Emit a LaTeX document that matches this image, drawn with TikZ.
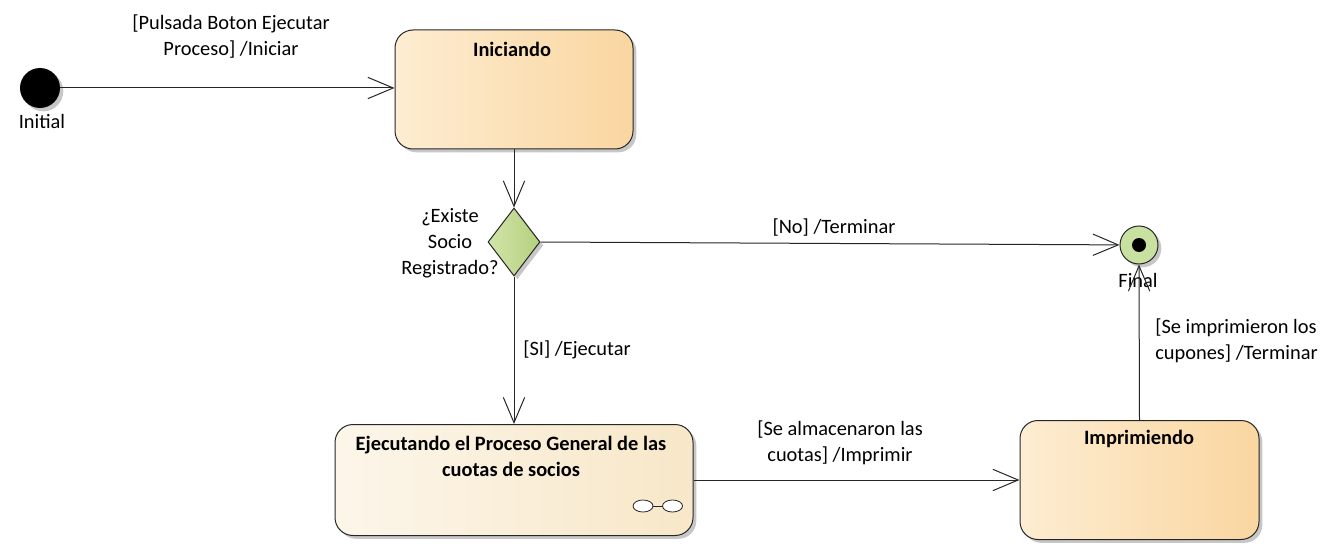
\documentclass[tikz,border=0pt]{standalone}
\usepackage{fontspec}
\setmainfont{Carlito}
\usetikzlibrary{arrows.meta,shapes.geometric,shadows}
\definecolor{iniL}{RGB}{253,237,210}
\definecolor{iniR}{RGB}{250,214,160}
\definecolor{ejeL}{RGB}{252,246,234}
\definecolor{ejeR}{RGB}{248,231,200}
\definecolor{diaL}{RGB}{210,228,170}
\definecolor{diaR}{RGB}{180,208,125}
\definecolor{finG}{RGB}{200,224,160}
\begin{document}
\begin{tikzpicture}[x=0.75pt,y=-0.75pt,
  every node/.style={font=\fontsize{15.3}{19.5}\selectfont},
  shad/.style={drop shadow={shadow xshift=2.5pt,shadow yshift=-2.5pt,opacity=0.22,fill=black}},
  statebox/.style={draw=black!85,line width=0.75pt,rounded corners=13.5pt,inner sep=0pt,shad},
  trans/.style={draw=black!85,line width=0.75pt,-{Straight Barb[length=19pt,width=16pt,line width=0.75pt]}},
  lbl/.style={inner sep=0pt,align=center},
  ttl/.style={inner sep=0pt,align=center,font=\fontsize{15.3}{19.5}\selectfont\bfseries}]
\useasboundingbox (0,0) rectangle (1322,560);
% initial
\node[circle,fill=black,minimum size=30pt,inner sep=0pt,shad] (init) at (40,88) {};
\node[lbl] (initL) at (42,121) {Initial};
% states
\node[statebox,minimum width=178.5pt,minimum height=89.25pt,left color=iniL,right color=iniR] (ini) at (514,89.5) {};
\node[ttl] (iniT) at (512,49) {Iniciando};
\node[statebox,minimum width=268.5pt,minimum height=83.25pt,left color=ejeL,right color=ejeR] (eje) at (514,480) {};
\node[ttl] (ejeT) at (511,456) {Ejecutando el Proceso General de las\\cuotas de socios};
\node[statebox,minimum width=179.25pt,minimum height=89.25pt,left color=iniL,right color=iniR] (imp) at (1139.5,480) {};
\node[ttl] (impT) at (1139,439) {Imprimiendo};
% composite icon
\draw[black!85,line width=0.6pt,fill=white] (643,506) ellipse [x radius=10,y radius=6];
\draw[black!85,line width=0.6pt,fill=white] (672.5,506) ellipse [x radius=10,y radius=6];
\draw[black!85,line width=0.6pt] (653,506) -- (662.5,506);
% decision
\node[diamond,draw=black!85,line width=0.75pt,minimum width=39pt,minimum height=51pt,inner sep=0pt,left color=diaL,right color=diaR,shad] (dia) at (514,242) {};
\node[lbl] (diaL) at (450,243) {¿Existe\\Socio\\Registrado?};
% final
\node[circle,draw=black!85,line width=0.75pt,fill=finG,minimum size=28.5pt,inner sep=0pt,shad] (fin) at (1139,245) {};
\node[circle,fill=black,minimum size=10.5pt,inner sep=0pt] (finD) at (fin) {};
\node[lbl] (finL) at (1138,280) {Final};
% transitions
\draw[trans] (init) -- (init -| ini.west);
\node[lbl] (t1) at (231,37) {[Pulsada Boton Ejecutar\\Proceso] /Iniciar};
\draw[trans] (ini.south) -- (dia.north);
\draw[trans] (dia.east) -- (fin);
\node[lbl] (t2) at (834,228) {[No] /Terminar};
\draw[trans] (dia.south) -- (eje.north);
\node[lbl] (t3) at (577,350) {[SI] /Ejecutar};
\draw[trans] (eje.east) -- (imp.west);
\node[lbl] (t4) at (840,443) {[Se almacenaron las\\cuotas] /Imprimir};
\draw[trans] (imp.north) -- (fin.south);
\node[lbl,align=left,anchor=west] (t5) at (1155,341) {[Se imprimieron los\\cupones] /Terminar};
\end{tikzpicture}
\end{document}
